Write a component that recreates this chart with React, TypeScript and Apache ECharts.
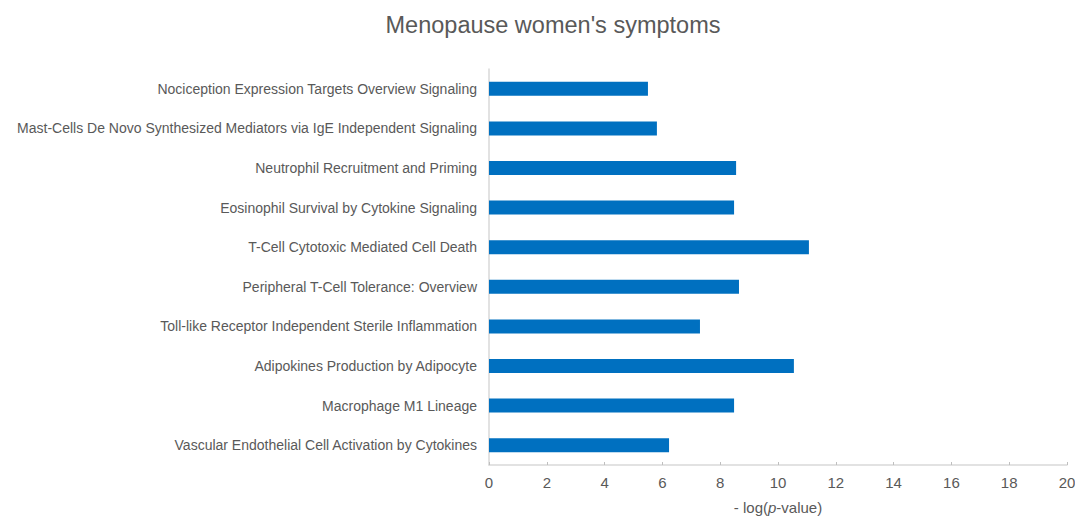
import React, { useEffect, useRef } from "react";
import * as echarts from "echarts";

const categories = [
  "Nociception Expression Targets Overview Signaling",
  "Mast-Cells De Novo Synthesized Mediators via IgE Independent Signaling",
  "Neutrophil Recruitment and Priming",
  "Eosinophil Survival by Cytokine Signaling",
  "T-Cell Cytotoxic Mediated Cell Death",
  "Peripheral T-Cell Tolerance: Overview",
  "Toll-like Receptor Independent Sterile Inflammation",
  "Adipokines Production by Adipocyte",
  "Macrophage M1 Lineage",
  "Vascular Endothelial Cell Activation by Cytokines",
];
const values = [5.5, 5.81, 8.55, 8.48, 11.07, 8.65, 7.3, 10.55, 8.48, 6.23];

export default function App() {
  const ref = useRef<HTMLDivElement>(null);
  useEffect(() => {
    if (!ref.current) return;
    const chart = echarts.init(ref.current, undefined, { renderer: "svg" });
    const font = "'Liberation Sans', Arial, sans-serif";
    chart.setOption({
      animation: false,
      backgroundColor: "#ffffff",
      title: {
        text: "Menopause women's symptoms",
        left: 540,
        textAlign: "center",
        top: 0,
        textStyle: { fontFamily: font, fontSize: 23.5, fontWeight: "normal", color: "#595959" },
      },
      grid: { left: 481, right: 8, top: 61, bottom: 55, outerBoundsMode: "none", containLabel: false },
      xAxis: {
        type: "value",
        min: 0,
        max: 20,
        interval: 2,
        name: "{a|- log(}{b|p}{a|-value)}",
        nameLocation: "middle",
        nameGap: 35,
        nameTextStyle: {
          rich: {
            a: { fontFamily: font, fontSize: 15, color: "#595959" },
            b: { fontFamily: font, fontSize: 15, color: "#595959", fontStyle: "italic" },
          },
        },
        axisLine: { show: true, lineStyle: { color: "#d9d9d9", width: 1.5 } },
        axisTick: { show: true, inside: true, length: 3, lineStyle: { color: "#bfbfbf" } },
        splitLine: { show: false },
        axisLabel: { fontFamily: font, fontSize: 15, color: "#595959", margin: 10 },
      },
      yAxis: {
        type: "category",
        data: categories,
        inverse: true,
        axisLine: { show: true, lineStyle: { color: "#d9d9d9", width: 1.5 } },
        axisTick: { show: false },
        axisLabel: { fontFamily: font, fontSize: 14, color: "#595959", margin: 12 },
      },
      series: [
        {
          type: "bar",
          data: values,
          barWidth: 14,
          itemStyle: { color: "#0070c0" },
        },
      ],
    });
    return () => chart.dispose();
  }, []);
  return <div ref={ref} style={{ width: 1067, height: 512 }} />;
}
